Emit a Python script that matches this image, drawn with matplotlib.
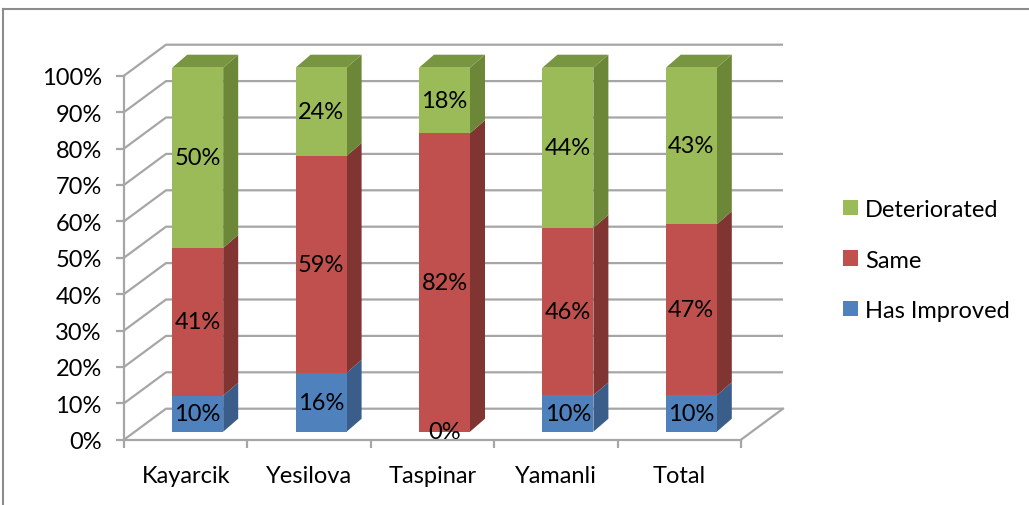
import matplotlib
matplotlib.use('Agg')
from matplotlib import pyplot as plt
from matplotlib.patches import Polygon, Patch
from matplotlib.lines import Line2D
import numpy as np

plt.rcParams['font.family'] = ['Lato', 'DejaVu Sans']

categories = ['Kayarcik', 'Yesilova', 'Taspinar', 'Yamanli', 'Total']
improved = [10, 16, 0, 10, 10]
same = [41, 59, 82, 46, 47]
deteriorated = [50, 24, 18, 44, 43]
series_names = ['Has Improved', 'Same', 'Deteriorated']
yticks = list(range(0, 101, 10))

front_col = ['#4F81BD', '#C0504D', '#9BBB59']
side_col = ['#3A5D8A', '#813533', '#6B8737']
top_col = ['#3F6798', '#93403D', '#789640']
grid_col = '#A6A6A6'
FS = 17

W, H = 1029, 506
fig = plt.figure(figsize=(W / 100, H / 100), dpi=100)
ax = fig.add_axes([124 / W, (H - 440.7) / H, 617 / W, 364 / H])
ax.set_xlim(-0.5, 4.5)
ax.set_ylim(0, 100)

# pixel -> data helpers for the oblique 3d look
px_x = 617 / 5.0
px_y = 364 / 100.0
back_dx, back_dy = 42 / px_x, 31 / px_y      # back wall offset
bar_dx, bar_dy = 12 / px_x, 8 / px_y         # bar front plane offset
dep_dx, dep_dy = 15 / px_x, 13 / px_y        # bar depth
bw = 51 / px_x

# back wall / side wall gridlines
for v in yticks:
    ax.plot([-0.5, -0.5 + back_dx, 4.5 + back_dx], [v, v + back_dy, v + back_dy],
            color=grid_col, lw=1.6, clip_on=False, zorder=1, solid_capstyle='butt')
ax.plot([4.5, 4.5 + back_dx], [0, back_dy], color=grid_col, lw=1.6, clip_on=False, zorder=1)

# normalise to 100% stacked
data = np.array([improved, same, deteriorated], dtype=float)
data = data / data.sum(axis=0) * 100
x = np.arange(len(categories))
bottoms = np.vstack([np.zeros(len(x)), np.cumsum(data, axis=0)[:-1]])
raw = [improved, same, deteriorated]

for s in range(3):
    bars = ax.bar(x + bar_dx, data[s], bottom=bottoms[s] + bar_dy, width=bw,
                  color=front_col[s], zorder=4, clip_on=False, linewidth=0)
    for i, b in enumerate(bars):
        l = b.get_x()
        r = l + b.get_width()
        y0 = b.get_y()
        y1 = y0 + b.get_height()
        side = Polygon([(r, y0), (r + dep_dx, y0 + dep_dy), (r + dep_dx, y1 + dep_dy), (r, y1)],
                       closed=True, facecolor=side_col[s], edgecolor='none', zorder=3, clip_on=False)
        ax.add_patch(side)
        if s == 2:
            top = Polygon([(l, y1), (l + dep_dx, y1 + dep_dy), (r + dep_dx, y1 + dep_dy), (r, y1)],
                          closed=True, facecolor=top_col[s], edgecolor='none', zorder=3, clip_on=False)
            ax.add_patch(top)
        ax.text(l + b.get_width() / 2, y0 + b.get_height() / 2, '%d%%' % raw[s][i],
                ha='center', va='center', fontsize=FS, color='black', zorder=6, clip_on=False)

# axes styling
for sp in ['top', 'right']:
    ax.spines[sp].set_visible(False)
for sp in ['left', 'bottom']:
    ax.spines[sp].set_color(grid_col)
    ax.spines[sp].set_linewidth(1.6)
    ax.spines[sp].set_zorder(2)

ax.set_yticks(yticks)
ax.set_yticklabels(['%d%%' % v for v in yticks], fontsize=FS)
ax.tick_params(axis='y', length=6, width=1.6, color=grid_col, pad=10)

ax.set_xticks(x)
ax.set_xticklabels(categories, fontsize=FS)
ax.set_xticks(np.arange(-0.5, 5.0, 1.0), minor=True)
ax.tick_params(axis='x', which='major', length=0, pad=18)
ax.tick_params(axis='x', which='minor', length=6, width=1.6, color=grid_col)

em = FS * 100 / 72.0
handles = [Patch(facecolor=front_col[s], edgecolor='none') for s in [2, 1, 0]]
fig.legend(handles, [series_names[s] for s in [2, 1, 0]], loc='center left',
           bbox_to_anchor=((843 - 0.4 * em) / W, 1 - 261 / H), frameon=False, fontsize=FS,
           handlelength=15 / em, handleheight=15 / em, handletextpad=0.3,
           labelspacing=1.25, borderaxespad=0)

# outer chart frame
fig.add_artist(Line2D([3 / W, 3 / W], [0, 1 - 10 / H], color='#8C8C8C', lw=1.5))
fig.add_artist(Line2D([3 / W, 1], [1 - 10 / H, 1 - 10 / H], color='#8C8C8C', lw=1.5))

fig.savefig('out.png', dpi=100)
